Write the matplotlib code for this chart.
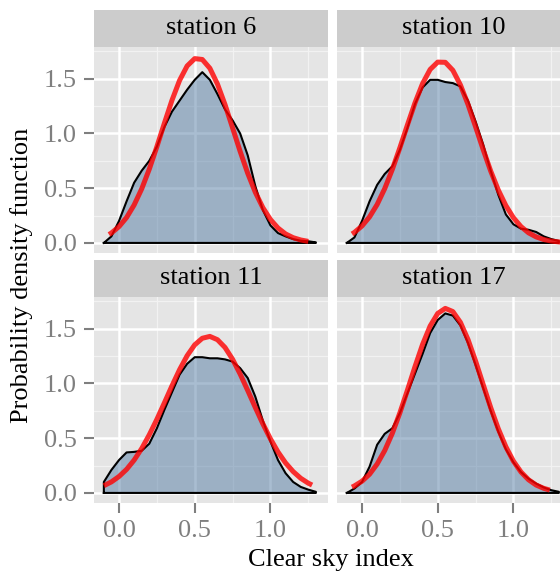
import numpy as np
import matplotlib
matplotlib.use('Agg')
import matplotlib.pyplot as plt

plt.rcParams['font.family'] = ['Liberation Serif', 'DejaVu Serif']

# kernel density estimates of the clear sky index, one per station
dens_x = np.round(np.arange(-0.10, 1.301, 0.05), 2)
s6_dens = [0.00, 0.06, 0.20, 0.38, 0.55, 0.66, 0.75, 0.88, 1.06, 1.20, 1.30, 1.40, 1.49, 1.56, 1.49,
           1.36, 1.22, 1.12, 1.00, 0.80, 0.52, 0.30, 0.16, 0.09, 0.06, 0.035, 0.02, 0.015, 0.005]
s10_dens = [0.00, 0.05, 0.20, 0.38, 0.53, 0.63, 0.70, 0.85, 1.05, 1.27, 1.42, 1.49, 1.49, 1.47, 1.46,
            1.43, 1.30, 1.11, 0.90, 0.66, 0.44, 0.26, 0.17, 0.13, 0.12, 0.10, 0.06, 0.035, 0.018]
s11_dens = [0.10, 0.21, 0.30, 0.37, 0.375, 0.385, 0.45, 0.59, 0.76, 0.92, 1.08, 1.18, 1.24, 1.24, 1.23,
            1.23, 1.22, 1.20, 1.14, 1.05, 0.88, 0.66, 0.47, 0.30, 0.18, 0.10, 0.055, 0.03, 0.01]
s17_dens = [0.00, 0.04, 0.10, 0.24, 0.44, 0.54, 0.59, 0.73, 0.91, 1.09, 1.27, 1.46, 1.58, 1.64, 1.62,
            1.53, 1.37, 1.17, 0.96, 0.75, 0.56, 0.40, 0.28, 0.19, 0.13, 0.085, 0.05, 0.025, 0.01]

# fitted normal densities
s6_fit_x = [-0.066] + list(np.round(np.arange(-0.05, 1.251, 0.05), 2))
s6_fit = [0.077, 0.091, 0.149, 0.232, 0.347, 0.494, 0.674, 0.879, 1.095, 1.304, 1.485, 1.617, 1.684,
          1.676, 1.596, 1.452, 1.264, 1.051, 0.836, 0.636, 0.463, 0.322, 0.214, 0.136, 0.082, 0.048,
          0.027, 0.014]
s10_fit_x = [-0.066] + list(np.round(np.arange(-0.05, 1.401, 0.05), 2))
s10_fit = [0.082, 0.096, 0.155, 0.238, 0.351, 0.496, 0.671, 0.869, 1.078, 1.280, 1.456, 1.585, 1.652,
           1.650, 1.577, 1.443, 1.265, 1.061, 0.853, 0.656, 0.483, 0.341, 0.230, 0.149, 0.092, 0.055,
           0.031, 0.017, 0.009, 0.004, 0.002]
s11_fit_x = list(np.round(np.arange(-0.10, 1.251, 0.05), 2)) + [1.275]
s11_fit = [0.066, 0.101, 0.150, 0.215, 0.300, 0.406, 0.531, 0.672, 0.824, 0.979, 1.126, 1.254, 1.353,
           1.413, 1.430, 1.400, 1.329, 1.221, 1.086, 0.936, 0.781, 0.631, 0.494, 0.374, 0.274, 0.195,
           0.134, 0.089, 0.072]
s17_fit_x = [-0.066] + list(np.round(np.arange(-0.05, 1.201, 0.05), 2)) + [1.24]
s17_fit = [0.053, 0.064, 0.107, 0.171, 0.264, 0.387, 0.544, 0.731, 0.939, 1.154, 1.357, 1.525, 1.640,
           1.686, 1.657, 1.558, 1.401, 1.205, 0.991, 0.779, 0.586, 0.422, 0.290, 0.191, 0.120, 0.072,
           0.042, 0.026]

stations = ['station 6', 'station 10', 'station 11', 'station 17']
densities = [s6_dens, s10_dens, s11_dens, s17_dens]
fits = [(s6_fit_x, s6_fit), (s10_fit_x, s10_fit), (s11_fit_x, s11_fit), (s17_fit_x, s17_fit)]

ticks = [0.0, 0.5, 1.0, 1.5]
tick_labels = ['0.0', '0.5', '1.0', '1.5']

W, H = 560, 574
fig = plt.figure(figsize=(W / 100, H / 100), dpi=100)

# panel boxes in pixels: left, top, width, height
col_left = [94, 337]
row_top = [47, 297]
panel_w, panel_h = 234, 206
strip_h = 37

grey = '#7F7F7F'
fs = 19

for i, name in enumerate(stations):
    r, c = divmod(i, 2)
    left = col_left[c]
    top = row_top[r]
    ax = fig.add_axes([left / W, 1 - (top + panel_h) / H, panel_w / W, panel_h / H])
    sax = fig.add_axes([left / W, 1 - top / H, panel_w / W, strip_h / H])

    # strip
    sax.set_facecolor('#CCCCCC')
    sax.set_xticks([])
    sax.set_yticks([])
    for s in sax.spines.values():
        s.set_visible(False)
    sax.text(0.5, 0.5, name, ha='center', va='center', fontsize=fs, transform=sax.transAxes)

    # panel background and grid
    ax.set_facecolor('#E5E5E5')
    for s in ax.spines.values():
        s.set_visible(False)
    ax.set_xlim(-0.165, 1.38)
    ax.set_ylim(-0.092, 1.79)
    for v in [0.25, 0.75, 1.25]:
        ax.axvline(v, color='#F2F2F2', lw=0.9, zorder=0.5)
    for v in [0.25, 0.75, 1.25, 1.75]:
        ax.axhline(v, color='#F2F2F2', lw=0.9, zorder=0.5)
    for v in [0.0, 0.5, 1.0]:
        ax.axvline(v, color='white', lw=1.8, zorder=0.6)
    for v in ticks:
        ax.axhline(v, color='white', lw=1.8, zorder=0.6)

    # density area with outline
    y = densities[i]
    px = np.concatenate([[dens_x[0]], dens_x, [dens_x[-1]], [dens_x[0]]])
    py = np.concatenate([[0], y, [0], [0]])
    ax.fill(px, py, facecolor=(85 / 255, 125 / 255, 165 / 255), alpha=0.5, edgecolor='none', zorder=1)
    ax.plot(px, py, color='black', lw=1.5, zorder=2, solid_joinstyle='round')

    # normal fit
    fx, fy = fits[i]
    ax.plot(fx, fy, color='red', alpha=0.8, lw=3.6, zorder=3, solid_capstyle='butt')

    ax.set_xticks([0.0, 0.5, 1.0])
    ax.set_xticklabels(['0.0', '0.5', '1.0'])
    ax.set_yticks(ticks)
    ax.set_yticklabels(tick_labels)
    ax.tick_params(axis='both', colors=grey, labelcolor=grey, labelsize=fs,
                   length=7.5, width=1.5, pad=5)
    if c == 1:
        ax.tick_params(axis='y', left=False, labelleft=False)
    if r == 0:
        ax.tick_params(axis='x', bottom=False, labelbottom=False)

fig.text(331 / W, 1 - 560 / H, 'Clear sky index', ha='center', va='center', fontsize=fs)
fig.text(22 / W, 1 - 275 / H, 'Probability density function', ha='center', va='center',
         rotation=90, fontsize=fs)

fig.savefig('out.png', dpi=100)
